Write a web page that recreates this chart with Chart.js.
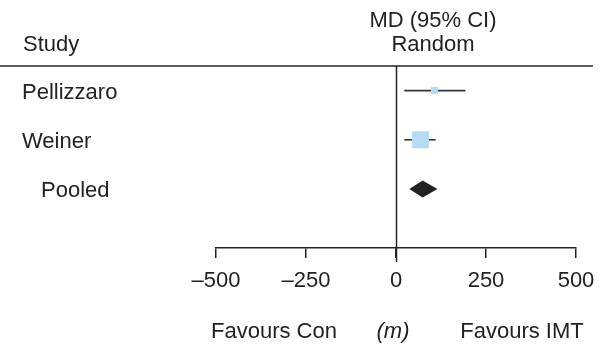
<!DOCTYPE html>
<html>
<head>
<meta charset="utf-8">
<script src="https://cdn.jsdelivr.net/npm/chart.js@4/dist/chart.umd.min.js"></script>
<style>
  html, body { margin: 0; padding: 0; background: #ffffff; }
  canvas { display: block; }
</style>
</head>
<body>
<canvas id="forest" width="607" height="351"></canvas>
<script>
// Forest plot: mean difference (m) with 95% CI, random-effects model
const studies   = ['Pellizzaro', 'Weiner', 'Pooled'];
const meanDiff  = [107, 68, 74];
const ciLower   = [23, 23, 37];
const ciUpper   = [193, 110, 115];
const xTicks    = [-500, -250, 0, 250, 500];
const tickLabels = ['\u2013500', '\u2013250', '0', '250', '500'];

const FONT = "'Liberation Sans', Arial, Helvetica, sans-serif";
const INK = '#222222';
const BOX = '#b5dbf2';
const pooledIndex = studies.indexOf('Pooled');
const trialIdx = studies.map((s, i) => i).filter(i => i !== pooledIndex);

// CI whiskers for individual studies
const ciSets = trialIdx.map(i => ({
  type: 'scatter',
  showLine: true,
  data: [{ x: ciLower[i], y: i }, { x: ciUpper[i], y: i }],
  borderColor: '#333333',
  borderWidth: 1.6,
  pointRadius: 0,
  order: 2
}));

// Weighted boxes for individual studies
const boxSet = {
  type: 'scatter',
  data: trialIdx.map(i => ({ x: meanDiff[i], y: i })),
  pointStyle: 'rect',
  pointRadius: [5, 12],
  backgroundColor: BOX,
  borderWidth: 0,
  order: 1
};

const decorations = {
  id: 'decorations',
  beforeDatasetsDraw(chart) {
    const { ctx, chartArea, scales: { x } } = chart;
    ctx.save();
    // header rule
    ctx.strokeStyle = '#5a5a5a';
    ctx.lineWidth = 2;
    ctx.beginPath();
    ctx.moveTo(0, chartArea.top);
    ctx.lineTo(593, chartArea.top);
    ctx.stroke();
    // line of no effect
    const x0 = Math.round(x.getPixelForValue(0)) + 0.5;
    ctx.strokeStyle = INK;
    ctx.lineWidth = 1.5;
    ctx.beginPath();
    ctx.moveTo(x0, chartArea.top);
    ctx.lineTo(x0, chartArea.bottom + 14);
    ctx.stroke();
    ctx.restore();
  },
  afterDatasetsDraw(chart) {
    const { ctx, scales: { x, y } } = chart;
    ctx.save();
    // pooled diamond
    const py = y.getPixelForValue(pooledIndex);
    const half = 8.5;
    ctx.fillStyle = INK;
    ctx.beginPath();
    ctx.moveTo(x.getPixelForValue(ciLower[pooledIndex]), py);
    ctx.lineTo(x.getPixelForValue(meanDiff[pooledIndex]), py - half);
    ctx.lineTo(x.getPixelForValue(ciUpper[pooledIndex]), py);
    ctx.lineTo(x.getPixelForValue(meanDiff[pooledIndex]), py + half);
    ctx.closePath();
    ctx.fill();

    // text
    ctx.fillStyle = INK;
    ctx.font = '22px ' + FONT;
    ctx.textBaseline = 'alphabetic';
    ctx.textAlign = 'left';
    ctx.fillText('Study', 23, 51);
    studies.forEach((s, i) => {
      const ty = y.getPixelForValue(i) + 8;
      ctx.fillText(s, i === pooledIndex ? 41 : 22, ty);
    });
    ctx.textAlign = 'center';
    ctx.fillText('MD (95% CI)', 433, 27);
    ctx.fillText('Random', 433, 51);
    ctx.fillText('Favours Con', 274, 338);
    ctx.fillText('Favours IMT', 522, 338);
    ctx.font = 'italic 22px ' + FONT;
    ctx.fillText('(m)', 393, 338);
    ctx.restore();
  }
};

new Chart(document.getElementById('forest'), {
  type: 'scatter',
  data: { datasets: [boxSet, ...ciSets] },
  plugins: [decorations],
  options: {
    responsive: false,
    animation: false,
    layout: { padding: { left: 216, right: 31, top: 66, bottom: 58 } },
    plugins: { legend: { display: false }, tooltip: { enabled: false } },
    scales: {
      x: {
        type: 'linear',
        min: -500,
        max: 500,
        afterBuildTicks(scale) { scale.ticks = xTicks.map(v => ({ value: v })); },
        afterFit(scale) { scale.height = 45; },
        ticks: {
          callback: (v) => tickLabels[xTicks.indexOf(v)],
          color: INK,
          font: { family: FONT, size: 22 },
          padding: 10,
          maxRotation: 0,
          autoSkip: false
        },
        grid: { drawOnChartArea: false, drawTicks: true, tickLength: 10, color: INK, lineWidth: 1.5 },
        border: { display: true, color: INK, width: 1.5 }
      },
      y: {
        type: 'linear',
        reverse: true,
        min: -0.5,
        max: 3.2,
        display: false
      }
    }
  }
});
</script>
</body>
</html>
